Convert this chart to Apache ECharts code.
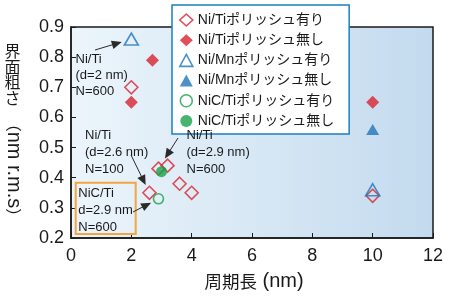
<!DOCTYPE html>
<html><head><meta charset="utf-8">
<script src="https://cdn.jsdelivr.net/npm/echarts@6/dist/echarts.min.js"></script>
<style>html,body{margin:0;padding:0;background:#fff}#c{width:450px;height:298px}</style>
</head><body><div id="c"></div>
<script>
// ---- data ----
const seriesNames = ['Ni/Tiポリッシュ有り','Ni/Tiポリッシュ無し','Ni/Mnポリッシュ有り','Ni/Mnポリッシュ無し','NiC/Tiポリッシュ有り','NiC/Tiポリッシュ無し'];
const niTiPolished   = [[2,0.70],[2.6,0.35],[2.9,0.43],[3.2,0.44],[3.6,0.38],[4,0.35],[10,0.34]];
const niTiUnpolished = [[2,0.65],[2.7,0.79],[10,0.65]];
const niMnPolished   = [[2,0.86],[10,0.36]];
const niMnUnpolished = [[10,0.56]];
const nicTiPolished  = [[2.9,0.33]];
const nicTiUnpolished= [[3.0,0.42]];
const xTicks = [0,2,4,6,8,10,12];
const yTicks = [0.2,0.3,0.4,0.5,0.6,0.7,0.8,0.9];
const xTitleCJK = '周期長';
const xTitleLatin = ' (nm)';
const yTitleCJK = ['界','面','粗','さ'];
const yTitleLatin = 'nm r.m.s';
const annotations = [
  {text:'Ni/Ti\n(d=2 nm)\nN=600', target:[2,0.86]},
  {text:'Ni/Ti\n(d=2.6 nm)\nN=100', target:[2.6,0.35]},
  {text:'Ni/Ti\n(d=2.9 nm)\nN=600', target:[2.9,0.43]},
  {text:'NiC/Ti\nd=2.9 nm\nN=600', target:[2.9,0.33]}
];

const RED='#d9232f', BLUE='#1f77bb', GREEN='#19a14b';
const FONT='"Liberation Sans", Arial, "Noto Sans CJK JP", sans-serif';
const styles = [
  {symbol:'diamond', size:13, item:{color:'rgba(0,0,0,0)', borderColor:RED, borderWidth:1.6}},
  {symbol:'diamond', size:13, item:{color:RED, borderWidth:0}},
  {symbol:'triangle', size:[14,12], item:{color:'rgba(0,0,0,0)', borderColor:BLUE, borderWidth:1.6}},
  {symbol:'triangle', size:[13,11], item:{color:BLUE, borderWidth:0}},
  {symbol:'circle', size:10, item:{color:'rgba(0,0,0,0)', borderColor:GREEN, borderWidth:1.6}},
  {symbol:'circle', size:11, item:{color:GREEN, borderWidth:0}}
];
const datasets=[niTiPolished,niTiUnpolished,niMnPolished,niMnUnpolished,nicTiPolished,nicTiUnpolished];

const chart = echarts.init(document.getElementById('c'));
chart.setOption({
  animation:false,
  textStyle:{fontFamily:FONT},
  grid:{left:71,right:17,top:27,bottom:60,show:true,borderColor:'#1a1a1a',borderWidth:1.5,
    backgroundColor:new echarts.graphic.LinearGradient(0,0,1,0,[{offset:0,color:'#ecf5fb'},{offset:1,color:'#c3daee'}])},
  xAxis:{type:'value',min:xTicks[0],max:xTicks[xTicks.length-1],interval:2,
    axisLine:{lineStyle:{color:'#1a1a1a',width:1.5}},
    axisTick:{inside:true,length:5,lineStyle:{color:'#1a1a1a'}},
    axisLabel:{fontSize:18,color:'#1a1a1a',margin:9,fontFamily:FONT},
    splitLine:{show:false}},
  yAxis:{type:'value',min:yTicks[0],max:yTicks[yTicks.length-1],interval:0.1,
    axisLine:{show:true,lineStyle:{color:'#1a1a1a',width:1.5}},
    axisTick:{show:true,inside:true,length:5,lineStyle:{color:'#1a1a1a'}},
    axisLabel:{fontSize:18,color:'#1a1a1a',margin:7,fontFamily:FONT,formatter:v=>v.toFixed(1)},
    splitLine:{show:false}},
  legend:{orient:'vertical',left:172,top:5,itemWidth:13,itemHeight:12,itemGap:6.2,
    padding:[8,15,6,7],backgroundColor:'#fff',borderColor:'#1b7fc2',borderWidth:1.5,borderRadius:0,
    textStyle:{fontSize:14,color:'#1a1a1a',fontFamily:FONT},
    data:seriesNames.map((n,i)=>({name:n,icon:styles[i].symbol,itemStyle:styles[i].item}))},
  series:datasets.map((d,i)=>({type:'scatter',name:seriesNames[i],data:d,symbol:styles[i].symbol,
    symbolSize:styles[i].size,itemStyle:styles[i].item,z:2+i}))
});

// annotations
const textPos=[[75.5,75,16],[85,152,17],[186.5,152,17],[78.3,210,17]];
const tails=[[95,50],[131,155],[178,138],[133,212]];
const gaps=[10,8.6,12,8.3];
const g=[];
// y title
yTitleCJK.forEach((ch,i)=>{
  g.push({type:'text',x:12.5,y:[51,66.5,82,97.5][i],style:{text:ch,font:'16px "Noto Sans CJK JP", sans-serif',fill:'#1a1a1a',textAlign:'center',textVerticalAlign:'middle'}});
});
g.push({type:'text',x:14,y:170,rotation:-Math.PI/2,style:{
  text:'{p|（}{l|'+yTitleLatin+'}{p|）}',fill:'#1a1a1a',textAlign:'center',textVerticalAlign:'middle',
  rich:{p:{fontSize:16,fontFamily:'"Noto Sans CJK JP"',fill:'#1a1a1a'},l:{fontSize:20,fontFamily:'"Liberation Sans"',fill:'#1a1a1a'}}}});
g.push({type:'text',x:254,y:281,style:{
  text:'{c|'+xTitleCJK+'}{l|'+xTitleLatin+'}',fill:'#1a1a1a',textAlign:'center',textVerticalAlign:'middle',
  rich:{c:{fontSize:17.5,fontFamily:'"Noto Sans CJK JP"',fill:'#1a1a1a'},l:{fontSize:20,fontFamily:'"Liberation Sans"',fill:'#1a1a1a'}}}});
// orange box
g.push({type:'rect',shape:{x:75.7,y:182.7,width:60,height:51.3},style:{fill:'rgba(0,0,0,0)',stroke:'#f3a443',lineWidth:2},z:10});
annotations.forEach((a,i)=>{
  const [tx,ty,lh]=textPos[i];
  g.push({type:'text',x:tx,y:ty,z:11,style:{text:a.text,font:'13px '+FONT,fill:'#1a1a1a',textAlign:'left',textVerticalAlign:'middle',lineHeight:lh}});
  const p=chart.convertToPixel({gridIndex:0},a.target);
  const t=tails[i];
  let dx=p[0]-t[0], dy=p[1]-t[1]; const L=Math.hypot(dx,dy); dx/=L; dy/=L;
  const hx=p[0]-dx*gaps[i], hy=p[1]-dy*gaps[i];
  const al=10, aw=4.3;
  const bx=hx-dx*al, by=hy-dy*al;
  g.push({type:'line',z:11,shape:{x1:t[0],y1:t[1],x2:bx+dx*1,y2:by+dy*1},style:{stroke:'#2a2a2a',lineWidth:1}});
  g.push({type:'polygon',z:11,shape:{points:[[hx,hy],[bx-dy*aw,by+dx*aw],[bx+dy*aw,by-dx*aw]]},style:{fill:'#2a2a2a'}});
});
chart.setOption({graphic:g});
</script></body></html>
